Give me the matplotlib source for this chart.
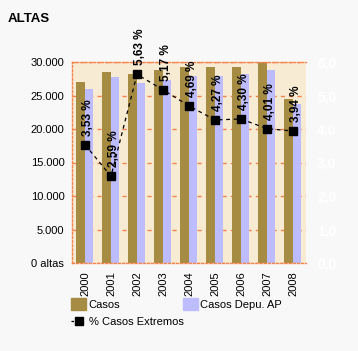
import matplotlib.pyplot as plt
from matplotlib.lines import Line2D
from matplotlib.patches import Patch
import numpy as np

# data
years = ['2000', '2001', '2002', '2003', '2004', '2005', '2006', '2007', '2008']
casos = [27050, 28500, 28200, 28800, 29300, 29300, 29300, 30150, 24480]
casos_depu = [26000, 27800, 26800, 27300, 27950, 27950, 28150, 28800, 23680]
pct_extremos = [3.53, 2.59, 5.63, 5.17, 4.69, 4.27, 4.30, 4.01, 3.94]

left_ticks = [0, 5000, 10000, 15000, 20000, 25000, 30000]
left_labels = ['0 altas', '5.000', '10.000', '15.000', '20.000', '25.000', '30.000']
right_ticks = [0, 1, 2, 3, 4, 5, 6]

plt.rcParams['font.family'] = ['Liberation Sans', 'DejaVu Sans']

c_casos = '#a68b42'
c_depu = '#bcbcff'
c_grid = '#f4844c'
bg = '#f8f8f8'

fig = plt.figure(figsize=(3.58, 3.51), dpi=100, facecolor=bg)
ax = fig.add_axes([72 / 358, 88 / 351, 234 / 358, 201 / 351])
ax.set_facecolor('#f7ebd3')

x = np.arange(len(years))
w = 0.34
ax.bar(x - w / 2, casos, width=w, color=c_casos, zorder=2)
ax.bar(x + w / 2 - 0.01, casos_depu, width=w - 0.02, color=c_depu, zorder=2)

ax.set_xlim(-0.5, len(years) - 0.5)
ax.set_ylim(0, 30000)
ax.set_yticks(left_ticks)
ax.set_yticklabels(left_labels, fontsize=8)
ax.set_xticks(x)
ax.set_xticklabels(years, rotation=90, fontsize=8)
ax.tick_params(length=0)
ax.tick_params(axis='y', pad=5.5)
ax.tick_params(axis='x', pad=6)

ax.yaxis.grid(True, color=c_grid, linestyle=(0, (3, 3)), linewidth=1, zorder=1)
ax.set_axisbelow(True)
for s in ['left', 'top', 'bottom']:
    ax.spines[s].set_color(c_grid)
    ax.spines[s].set_linestyle((0, (1.5, 1.5)))
    ax.spines[s].set_linewidth(1)
ax.spines['right'].set_visible(False)

ax2 = ax.twinx()
ax2.set_ylim(0, 6)
ax2.set_yticks(right_ticks)
ax2.set_yticklabels([f'{v},0' for v in right_ticks], color='white',
                    fontsize=10, fontweight='bold')
ax2.tick_params(length=0, pad=8)
for s in ax2.spines.values():
    s.set_visible(False)
ax2.plot(x, pct_extremos, color='black', linestyle=(0, (3, 3)), linewidth=0.9,
         marker='s', markersize=5.5, zorder=5)
for xi, v in zip(x, pct_extremos):
    ax2.annotate(f'{v:.2f} %'.replace('.', ','), (xi, v), xytext=(3, 9),
                 textcoords='offset pixels', rotation=90, ha='center', va='bottom',
                 fontsize=8.5, fontweight='bold', annotation_clip=False)

fig.text(8 / 358, 1 - 19 / 351, 'ALTAS', fontsize=9.5, fontweight='bold', va='center')

handles1 = [Patch(color=c_casos, label='Casos'),
            Patch(color=c_depu, label='Casos Depu. AP')]
fig.legend(handles=handles1, loc='upper left', bbox_to_anchor=(71 / 358, 1 - 298 / 351),
           ncol=2, frameon=False, fontsize=8, handlelength=1.35, handleheight=1.35,
           handletextpad=0.25, columnspacing=5.6, borderpad=0, borderaxespad=0)
handles2 = [Line2D([0], [0], color='black', linestyle=(0, (2, 2)), marker='s',
                   markersize=5.5, linewidth=0.9, label='% Casos Extremos')]
fig.legend(handles=handles2, loc='upper left', bbox_to_anchor=(71 / 358, 1 - 317 / 351),
           frameon=False, fontsize=8, handlelength=1.35, handletextpad=0.25,
           borderpad=0, borderaxespad=0)

fig.savefig('out.png', dpi=100, facecolor=bg)
